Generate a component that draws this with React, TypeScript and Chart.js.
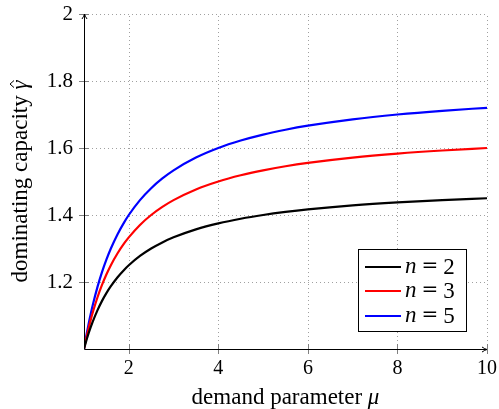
import React, { useEffect, useRef } from "react";
import { Chart, registerables } from "chart.js";
Chart.register(...registerables);

const mu = [1, 1.05, 1.1, 1.15, 1.2, 1.3, 1.4, 1.5, 1.6, 1.75, 1.9, 2, 2.25, 2.5, 2.75, 3, 3.5, 4, 4.5, 5, 5.5, 6, 7, 8, 9, 10];
const gammaN2 = [1, 1.0238, 1.0455, 1.0652, 1.0833, 1.1154, 1.1429, 1.1667, 1.1875, 1.2143, 1.2368, 1.25, 1.2778, 1.3, 1.3182, 1.3333, 1.3571, 1.375, 1.3889, 1.4, 1.4091, 1.4167, 1.4286, 1.4375, 1.4444, 1.45];
const gammaN3 = [1, 1.0317, 1.0606, 1.087, 1.1111, 1.1538, 1.1905, 1.2222, 1.25, 1.2857, 1.3158, 1.3333, 1.3704, 1.4, 1.4242, 1.4444, 1.4762, 1.5, 1.5185, 1.5333, 1.5455, 1.5556, 1.5714, 1.5833, 1.5926, 1.6];
const gammaN5 = [1, 1.0381, 1.0727, 1.1043, 1.1333, 1.1846, 1.2286, 1.2667, 1.3, 1.3429, 1.3789, 1.4, 1.4444, 1.48, 1.5091, 1.5333, 1.5714, 1.6, 1.6222, 1.64, 1.6545, 1.6667, 1.6857, 1.7, 1.7111, 1.72];
const seriesN = ["2", "3", "5"];
const seriesColors = ["#000000", "#ff0000", "#0000ff"];
const xTicks = [2, 4, 6, 8, 10];
const yTicks = [1.2, 1.4, 1.6, 1.8, 2];
const xTitleText = "demand parameter ";
const xTitleSym = "μ";
const yTitleText = "dominating capacity ";
const yTitleSym = "γ";

const FONT = "'Liberation Serif', 'Times New Roman', serif";

const decorPlugin = {
  id: "decor",
  beforeDatasetsDraw(chart: any) {
    const { ctx, chartArea: a, scales } = chart;
    const xs = scales.x, ys = scales.y;
    ctx.save();
    ctx.strokeStyle = "#a0a0a0";
    ctx.lineWidth = 1;
    ctx.setLineDash([1, 3]);
    for (const v of xTicks) {
      const px = Math.round(xs.getPixelForValue(v)) + 0.5;
      ctx.beginPath();
      ctx.moveTo(px, a.bottom);
      ctx.lineTo(px, a.top);
      ctx.stroke();
    }
    for (const v of yTicks) {
      const py = Math.round(ys.getPixelForValue(v)) + 0.5;
      ctx.beginPath();
      ctx.moveTo(a.left, py);
      ctx.lineTo(a.right, py);
      ctx.stroke();
    }
    ctx.setLineDash([]);
    ctx.strokeStyle = "#808080";
    for (const v of xTicks) {
      const px = Math.round(xs.getPixelForValue(v)) + 0.5;
      ctx.beginPath();
      ctx.moveTo(px, a.bottom - 5);
      ctx.lineTo(px, a.bottom + 5);
      ctx.stroke();
    }
    for (const v of yTicks) {
      const py = Math.round(ys.getPixelForValue(v)) + 0.5;
      ctx.beginPath();
      ctx.moveTo(a.left - 5, py);
      ctx.lineTo(a.left + 5, py);
      ctx.stroke();
    }
    ctx.restore();
  },
  afterDatasetsDraw(chart: any) {
    const { ctx, chartArea: a } = chart;
    ctx.save();
    ctx.strokeStyle = "#000";
    ctx.lineWidth = 1;
    const ax = Math.round(a.left) + 0.5;
    const ay = Math.round(a.bottom) + 0.5;
    ctx.beginPath();
    ctx.moveTo(ax, ay);
    ctx.lineTo(ax, a.top);
    ctx.moveTo(ax, ay);
    ctx.lineTo(a.right, ay);
    ctx.stroke();
    ctx.beginPath();
    ctx.moveTo(ax - 2.5, a.top + 5);
    ctx.quadraticCurveTo(ax - 0.5, a.top + 2, ax, a.top);
    ctx.quadraticCurveTo(ax + 0.5, a.top + 2, ax + 2.5, a.top + 5);
    ctx.moveTo(a.right - 5, ay - 2.5);
    ctx.quadraticCurveTo(a.right - 2, ay - 0.5, a.right, ay);
    ctx.quadraticCurveTo(a.right - 2, ay + 0.5, a.right - 5, ay + 2.5);
    ctx.stroke();

    ctx.fillStyle = "#000";
    ctx.textBaseline = "alphabetic";
    ctx.textAlign = "left";
    const tf = `23px ${FONT}`;
    const tfi = `italic 23px ${FONT}`;
    ctx.font = tf;
    const w1 = ctx.measureText(xTitleText).width;
    ctx.font = tfi;
    const w2 = ctx.measureText(xTitleSym).width;
    const cx = (a.left + a.right) / 2;
    const sx = cx - (w1 + w2) / 2;
    ctx.font = tf;
    ctx.fillText(xTitleText, sx, 404);
    ctx.font = tfi;
    ctx.fillText(xTitleSym, sx + w1, 404);

    ctx.save();
    ctx.translate(27, (a.top + a.bottom) / 2);
    ctx.rotate(-Math.PI / 2);
    ctx.font = tf;
    const v1 = ctx.measureText(yTitleText).width;
    ctx.font = tfi;
    const v2 = ctx.measureText(yTitleSym).width;
    const s0 = -(v1 + v2) / 2;
    ctx.font = tf;
    ctx.fillText(yTitleText, s0, 0);
    ctx.font = tfi;
    ctx.fillText(yTitleSym, s0 + v1, 0);
    ctx.lineWidth = 1;
    ctx.beginPath();
    const hx = s0 + v1 + v2 / 2 + 1;
    ctx.moveTo(hx - 3.5, -13);
    ctx.lineTo(hx, -17);
    ctx.lineTo(hx + 3.5, -13);
    ctx.stroke();
    ctx.restore();

    const lx = 358.5, ly = 249.5, lw = 108, lh = 82;
    ctx.fillStyle = "#fff";
    ctx.fillRect(lx, ly, lw, lh);
    ctx.strokeStyle = "#000";
    ctx.lineWidth = 1;
    ctx.strokeRect(lx, ly, lw, lh);
    const rows = [267, 291, 316];
    seriesN.forEach((n, i) => {
      const y = rows[i];
      ctx.strokeStyle = seriesColors[i];
      ctx.lineWidth = 2.2;
      ctx.beginPath();
      ctx.moveTo(365, y);
      ctx.lineTo(401, y);
      ctx.stroke();
      ctx.fillStyle = "#000";
      ctx.textBaseline = "middle";
      ctx.font = `italic 23px ${FONT}`;
      ctx.textAlign = "left";
      ctx.fillText("n", 405, y);
      ctx.font = `20px 'DejaVu Serif', serif`;
      ctx.textAlign = "center";
      ctx.fillText("=", 430, y);
      ctx.font = `23px ${FONT}`;
      ctx.fillText(n, 449, y + 1);
    });
    ctx.restore();
  },
};

export default function App() {
  const ref = useRef<HTMLCanvasElement | null>(null);
  useEffect(() => {
    if (!ref.current) return;
    const mk = (ys: number[]) => mu.map((m, i) => ({ x: m, y: ys[i] }));
    const all = [gammaN2, gammaN3, gammaN5];
    const chart = new Chart(ref.current, {
      type: "line",
      data: {
        datasets: all.map((s, i) => ({
          label: "n = " + seriesN[i],
          data: mk(s),
          borderColor: seriesColors[i],
          backgroundColor: seriesColors[i],
          borderWidth: 2.2,
          pointRadius: 0,
          cubicInterpolationMode: "monotone" as const,
          fill: false,
        })),
      },
      options: {
        responsive: false,
        animation: false,
        devicePixelRatio: 1,
        layout: { padding: { top: 14, right: 12, left: 0, bottom: 0 } },
        plugins: { legend: { display: false }, tooltip: { enabled: false }, title: { display: false } },
        scales: {
          x: {
            type: "linear",
            min: 1,
            max: 10,
            afterBuildTicks: (s: any) => {
              s.ticks = xTicks.map((v) => ({ value: v }));
            },
            afterFit: (s: any) => {
              s.height = 60;
              s.paddingLeft = 0;
              s.paddingRight = 0;
              s.paddingTop = 0;
              s.paddingBottom = 0;
            },
            grid: { display: false, drawTicks: false },
            border: { display: false },
            ticks: {
              color: "#000",
              font: { family: FONT, size: 20 },
              padding: 8,
              maxRotation: 0,
              autoSkip: false,
              callback: (v: any) => String(v),
            },
          },
          y: {
            type: "linear",
            min: 1,
            max: 2,
            afterBuildTicks: (s: any) => {
              s.ticks = yTicks.map((v) => ({ value: v }));
            },
            afterFit: (s: any) => {
              s.width = 84;
              s.paddingLeft = 0;
              s.paddingRight = 0;
              s.paddingTop = 0;
              s.paddingBottom = 0;
            },
            grid: { display: false, drawTicks: false },
            border: { display: false },
            ticks: {
              color: "#000",
              font: { family: FONT, size: 21 },
              padding: 11,
              autoSkip: false,
              callback: (v: any) => String(v),
            },
          },
        },
      },
      plugins: [decorPlugin],
    });
    return () => chart.destroy();
  }, []);
  return (
    <div style={{ position: "fixed", left: 0, top: 0, width: 499, height: 409, background: "#fff" }}>
      <canvas ref={ref} width={499} height={409} style={{ display: "block", width: 499, height: 409 }} />
    </div>
  );
}
